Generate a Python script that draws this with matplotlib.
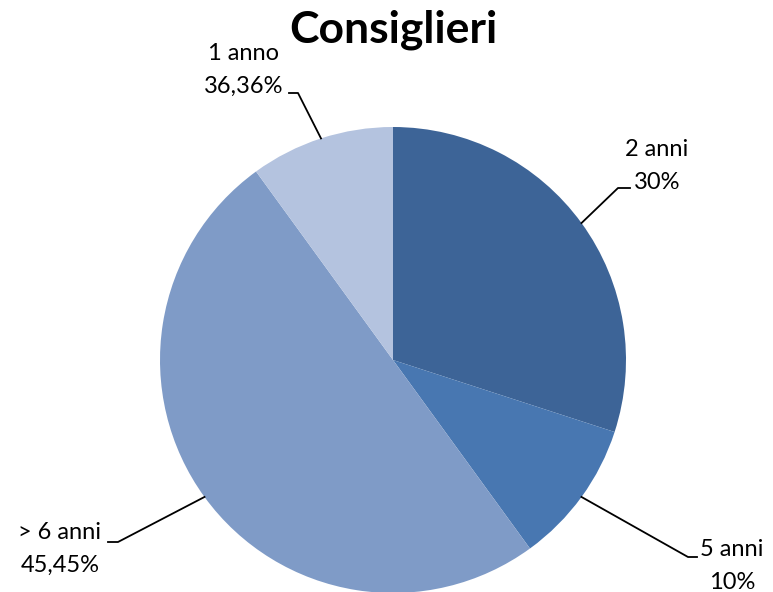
import numpy as np
import matplotlib
matplotlib.use("Agg")
import matplotlib.pyplot as plt

plt.rcParams['font.family'] = ['Lato', 'DejaVu Sans']

categorie = ["2 anni", "5 anni", "> 6 anni", "1 anno"]
valori = [30, 10, 50, 10]
etichette = ["30%", "10%", "45,45%", "36,36%"]
colori = ["#3D6497", "#4877B1", "#7F9BC7", "#B4C3DF"]

# text anchor (pixels, y from top) and elbow end for each label
pos_testo = [(657, 166), (732, 566), (60, 549), (244, 70)]
gomito = [(630, 188), (697, 557), (108, 542), (289, 93)]
gomito2 = [(618, 188), (688, 557), (118, 542), (298, 93)]

W, H = 773, 592
fig = plt.figure(figsize=(W / 100, H / 100), dpi=100)
ax = fig.add_axes([0, 0, 1, 1])

cx, cy, r = 393, H - 360, 233
wedges, _ = ax.pie(valori, colors=colori, startangle=90, counterclock=False,
                   center=(cx, cy), radius=r, wedgeprops=dict(linewidth=0),
                   frame=True)
ax.set_xlim(0, W)
ax.set_ylim(0, H)
ax.set_aspect('equal')
ax.axis('off')

for w, cat, lab, (tx, ty), (ex, ey), (gx, gy) in zip(wedges, categorie, etichette,
                                                     pos_testo, gomito, gomito2):
    ang = np.deg2rad((w.theta1 + w.theta2) / 2)
    px, py = cx + r * np.cos(ang), cy + r * np.sin(ang)
    ax.plot([px, gx, ex], [py, H - gy, H - ey], color='black', lw=1.3)
    ax.text(tx, H - ty, cat + "\n" + lab, ha='center', va='center',
            fontsize=17, linespacing=1.65, multialignment='center')

ax.text(393, H - 30, "Consiglieri", ha='center', va='center',
        fontsize=32, fontweight='bold')

fig.savefig("out.png", dpi=100)
